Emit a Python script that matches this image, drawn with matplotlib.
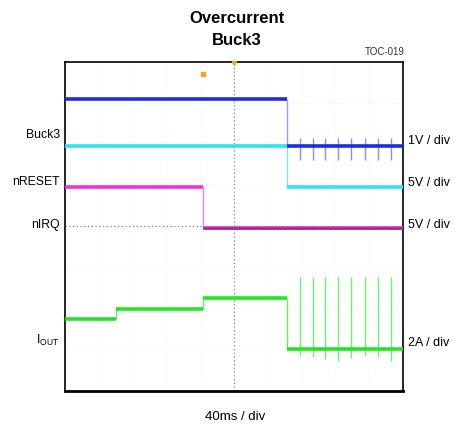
import numpy as np
import matplotlib
matplotlib.use("Agg")
import matplotlib.pyplot as plt

plt.rcParams['font.family'] = ['Liberation Sans', 'DejaVu Sans']

# time in ms (40 ms / div, 10 div), levels in screen divisions (0..8)
t_end = 400
# Buck3 (dark blue)
buck3_t = [0, 263, 400]
buck3_y = [7.10, 5.96]
# VOUT cyan
vout_t = [0, 263, 400]
vout_y = [5.96, 4.96]
# nRESET magenta
nreset_t = [0, 163, 400]
nreset_y = [4.96, 3.96]
# IOUT green
iout_t = [0, 60, 163, 263, 400]
iout_y = [1.75, 1.99, 2.26, 1.02]
# hiccup pulses after fault
pulse_t = [278, 293, 308, 323, 339, 355, 370, 386]
buck3_pulse_hi = [6.15] * 8
buck3_pulse_lo = [5.62] * 8
iout_pulse_hi = [2.77] * 8
iout_pulse_lo = [0.85, 0.82, 0.78, 0.72, 0.80, 0.85, 0.82, 0.72]

left_labels = ['Buck3', 'nRESET', 'nIRQ', r'I$_{\mathregular{OUT}}$']
left_y = [6.23, 5.08, 4.04, 1.22]
right_labels = ['1V / div', '5V / div', '5V / div', '2A / div']
right_y = [6.08, 5.06, 4.04, 1.17]

fig = plt.figure(figsize=(4.56, 4.29), dpi=100)
ax = fig.add_axes([0.1425, 0.0886, 0.7412, 0.7669])
ax.set_xlim(0, t_end)
ax.set_ylim(0, 8)

# faint scope grid
for gx in np.arange(40, 400, 40):
    ax.axvline(gx, color='#e8e8e8', lw=0.6, ls=(0, (1, 4)), zorder=0)
for gy in range(1, 8):
    ax.axhline(gy, color='#e8e8e8', lw=0.6, ls=(0, (1, 4)), zorder=0)
ax.axvline(200, color='#888888', lw=0.9, ls=(0, (1, 2)), zorder=1)
ax.axhline(4, color='#888888', lw=0.9, ls=(0, (1, 2)), zorder=1)


def trace(ts, ys, col, edge_col):
    ax.hlines(ys, ts[:-1], ts[1:], colors=col, lw=2.6, zorder=3)
    for i in range(1, len(ys)):
        ax.vlines(ts[i], min(ys[i - 1], ys[i]), max(ys[i - 1], ys[i]),
                  colors=edge_col, lw=1.0, zorder=2)


ax.vlines(pulse_t, buck3_pulse_lo, buck3_pulse_hi, colors='#8a8cf0', lw=1.0, zorder=2)
ax.vlines(pulse_t, iout_pulse_lo, iout_pulse_hi, colors='#70f070', lw=1.0, zorder=2)

trace(vout_t, vout_y, '#33e0f0', '#77e8f4')
trace(buck3_t, buck3_y, '#1c2de0', '#9a9cf0')
trace(nreset_t, nreset_y, '#ee33dd', '#f080e8')
ax.hlines(3.96, 163, 400, colors='#993399', lw=2.0, zorder=3)
trace(iout_t, iout_y, '#22e622', '#66ee66')

# trigger markers
ax.plot(163, 7.7, marker='s', ms=3.5, color='#f4a020', zorder=4, clip_on=False)
ax.plot(200, 7.98, marker='v', ms=3, color='#e0b020', zorder=4, clip_on=False)

ax.set_xticks([])
ax.set_yticks([])
for s in ax.spines.values():
    s.set_linewidth(1.2)
ax.spines['bottom'].set_linewidth(2.0)

fig.text(0.52, 0.958, 'Overcurrent', ha='center', va='center', fontsize=12, fontweight='bold')
fig.text(0.52, 0.905, 'Buck3', ha='center', va='center', fontsize=12, fontweight='bold')
fig.text(0.888, 0.879, 'TOC-019', ha='right', va='center', fontsize=7, color='#333333')

for lab, yy in zip(left_labels, left_y):
    ax.text(-0.015, yy, lab, transform=ax.get_yaxis_transform(), ha='right',
            va='center', fontsize=8.8)

for lab, yy in zip(right_labels, right_y):
    ax.text(1.015, yy, lab, transform=ax.get_yaxis_transform(), ha='left',
            va='center', fontsize=9)

fig.text(0.516, 0.028, '40ms / div', ha='center', va='center', fontsize=9.5)

fig.savefig('out.png', dpi=100)
